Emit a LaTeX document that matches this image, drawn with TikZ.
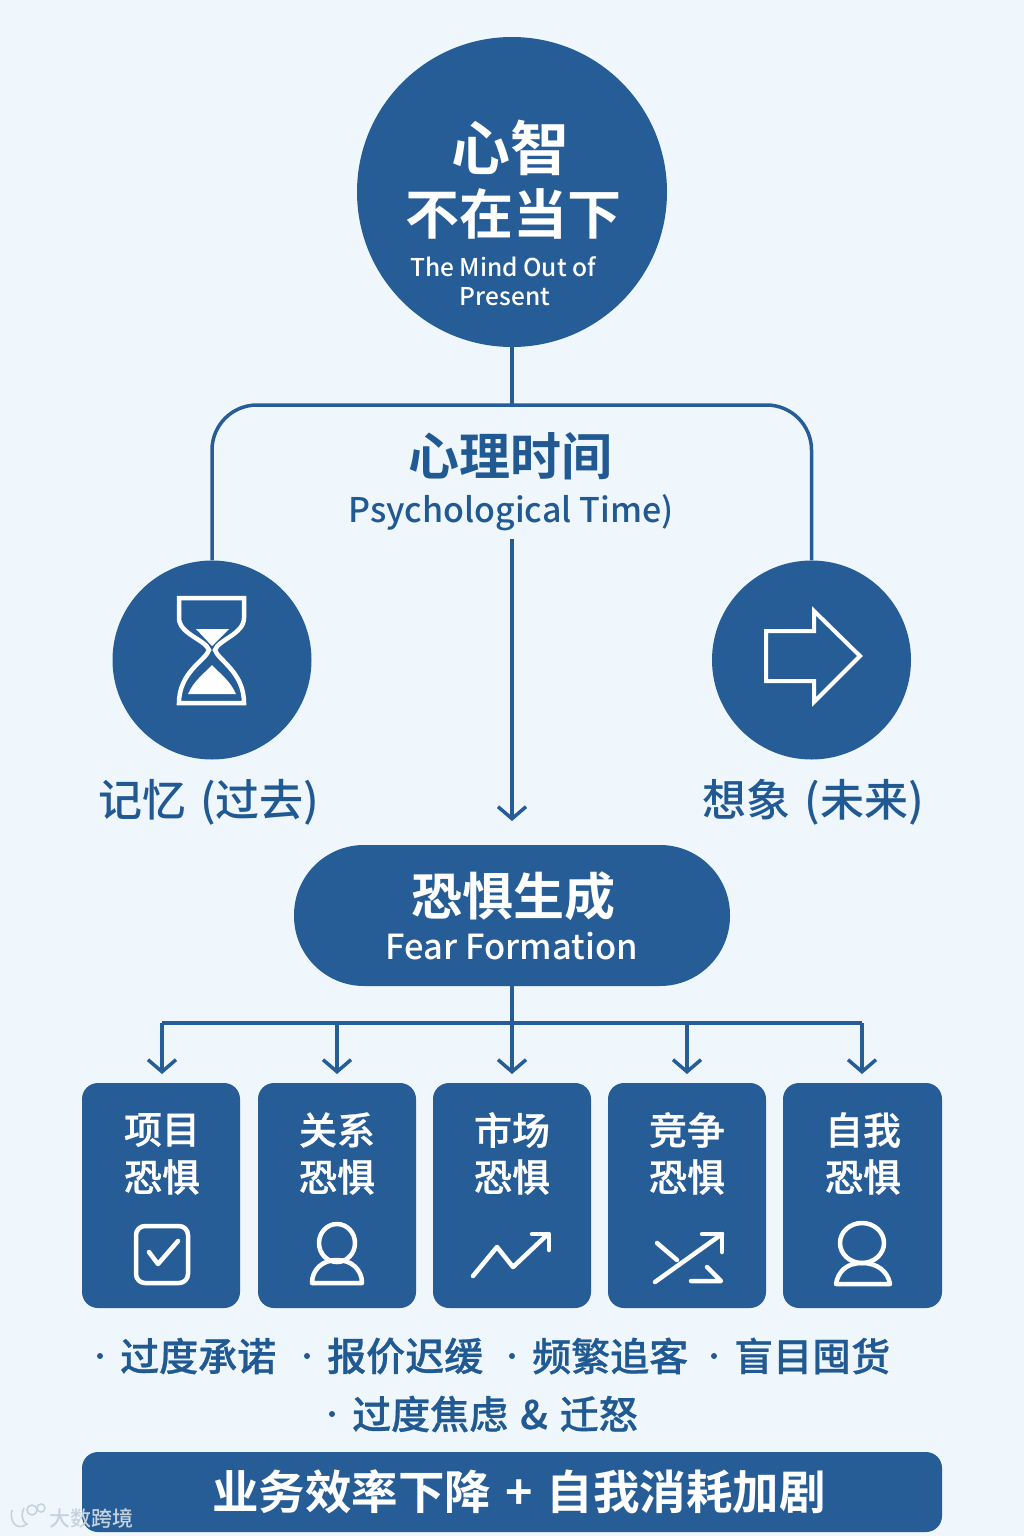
\documentclass[tikz,border=0pt]{standalone}
\usepackage{fontspec}
\setmainfont{Noto Sans CJK SC}[UprightFont={* Medium},BoldFont={* Bold}]
\newfontfamily\semifont{Noto Sans CJK SC}[UprightFont={* Medium},UprightFeatures={FakeBold=0.7}]
\usetikzlibrary{arrows.meta,shapes.geometric,calc}
\definecolor{bluefill}{HTML}{275D97}
\definecolor{bluetext}{HTML}{215A93}
\definecolor{pagebg}{HTML}{EFF7FD}
\definecolor{markgrey}{HTML}{C6D3DF}
\newcommand{\fs}[1]{\fontsize{#1}{#1}\selectfont}
\tikzset{
  x=1pt,y=-1pt,
  disc/.style={circle,fill=bluefill,draw=none,inner sep=0pt},
  pill/.style={rounded corners=70pt,fill=bluefill,draw=none},
  card/.style={rounded corners=16pt,fill=bluefill,draw=none},
  wtext/.style={text=white,inner sep=0pt,align=center},
  btext/.style={text=bluetext,inner sep=0pt,align=center},
  link/.style={draw=bluefill,line width=3.5pt},
  tip/.style={link,-{Straight Barb[length=12pt,width=28pt,line width=3.5pt]}},
  ico/.style={draw=white,line width=4.5pt,line join=round,line cap=round},
  bul/.style={btext,font=\fs{39}\semifont,anchor=west},
  markline/.style={draw=markgrey,line width=1.6pt},
}
\begin{document}
\begin{tikzpicture}
\useasboundingbox (0,0) rectangle (1024,1536);
\fill[pagebg] (0,0) rectangle (1024,1536);

% main shapes
\node[disc,minimum size=310pt] (mind) at (512,192) {};
\node[disc,minimum size=199pt] (past) at (212,660) {};
\node[disc,minimum size=199pt] (future) at (811.5,660) {};
\fill[pill] (294,845) rectangle (730,986);
\coordinate (pillN) at (512,845);
\coordinate (pillS) at (512,986);
\foreach \n/\a/\b in {c1/82/240,c2/258/416,c3/433/591,c4/608/766,c5/783/942}{
  \fill[card] (\a,1083) rectangle (\b,1308);
}
\fill[card] (82,1452) rectangle (942,1532);

% texts
\node[wtext,font=\fs{59}\bfseries] (t1) at (510,148) {心智};
\node[wtext,font=\fs{54}\bfseries] (t2) at (513.5,214) {不在当下};
\node[wtext,font=\fs{24.5}] (t3) at (503,267) {The Mind Out of};
\node[wtext,font=\fs{24.5}] (t4) at (505,297) {Present};
\node[btext,font=\fs{51}\bfseries] (ptime) at (510,456) {心理时间};
\node[btext,font=\fs{34}] (ptimeen) at (511,513) {Psychological Time)};
\node[btext,font=\fs{44}] (lpast) at (209,802) {记忆\hspace{14pt}(过去)};
\node[btext,font=\fs{44}] (lfut) at (813,802) {想象\hspace{14pt}(未来)};
\node[wtext,font=\fs{51}\bfseries] (fear) at (513,896) {恐惧生成};
\node[wtext,font=\fs{34.5}] (fearen) at (512,946) {Fear Formation};
\foreach \n/\x/\t in {a/162/项目,b/337/关系,c/512/市场,d/687/竞争,e/863/自我}{
  \node[wtext,font=\fs{38}\semifont] (card\n1) at (\x,1130) {\t};
  \node[wtext,font=\fs{38}\semifont] (card\n2) at (\x,1177) {恐惧};
}
\foreach \n/\x/\y/\t in {p/120/1356/过度承诺,q/327/1356/报价迟缓,r/532/1356/频繁追客,s/734/1356/盲目囤货,u/352/1414/过度焦虑\hspace{12pt}\&\hspace{12pt}迁怒}{
  \node[bul] (item\n) at (\x,\y) {\t};
  \fill[bluetext] ($(\x,\y)+(-20,0)$) circle (3pt);
}
\node[wtext,font=\fs{46.5}\bfseries] (bar) at (519,1492) {业务效率下降\hspace{14pt}+\hspace{14pt}自我消耗加剧};

% connectors
\coordinate (jn) at (512,405);
\draw[link] (mind.south) -- (jn);
\draw[link,rounded corners=45pt] (past.north) |- (jn) -| (future.north);
\draw[tip,shorten <=8pt,shorten >=24pt] (ptimeen.south -| pillN) -- (pillN);
\coordinate (bus) at (512,1023);
\draw[link] (pillS) -- (bus);
\foreach \x in {162,337,512,687,862}{
  \coordinate (drop\x) at (\x,1023);
  \coordinate (land\x) at (\x,1074);
  \draw[tip] (drop\x) -- (land\x);
}
\draw[link] (drop162) -- (drop862);

% hourglass
\draw[ico,line cap=butt,line join=miter]
  (179,598) -- (244,598) -- (244,618) .. controls (244,634) and (218,640) .. (215,650)
  .. controls (218,660) and (244,672) .. (244,703) -- (179,703)
  .. controls (179,672) and (206,660) .. (209,650) .. controls (206,640) and (179,634) .. (179,618) -- cycle;
\fill[white] (196,629) -- (229,629) -- (212,646) -- cycle;
\fill[white] (188,694) .. controls (194,680) and (206,672) .. (212,665) .. controls (218,672) and (230,680) .. (236,694) -- cycle;
% arrow icon
\draw[ico,line width=4pt,line cap=butt,line join=miter]
  (766,631) -- (814,631) -- (814,611) -- (860,656) -- (814,702) -- (814,681) -- (766,681) -- cycle;
% check icon
\draw[ico,rounded corners=9pt] (136,1226) rectangle (188,1283);
\draw[ico] (149,1252) -- (158,1264) -- (178,1241);
% person 1
\draw[ico] (337,1243) ellipse (18pt and 19pt);
\draw[ico] (312,1283) .. controls (312,1270) and (322,1260) .. (337,1260) .. controls (352,1260) and (362,1270) .. (362,1283) -- cycle;
% chart
\draw[ico] (473,1276) -- (497,1247) -- (513,1267) -- (548,1234);
\draw[ico] (532,1234) -- (549,1234) -- (549,1250);
% shuffle
\draw[ico] (655,1282) -- (722,1234);
\draw[ico] (702,1234) -- (722,1234) -- (722,1252);
\draw[ico] (657,1243) -- (677,1260);
\draw[ico] (707,1267) -- (721,1281) -- (691,1281);
% person 2
\draw[ico] (862,1243) ellipse (22pt and 20pt);
\draw[ico] (836,1284) .. controls (838,1272) and (846,1263) .. (862,1263) .. controls (878,1263) and (888,1272) .. (890,1284) -- cycle;

% watermark
\node[text=markgrey,inner sep=0pt,font=\fs{21}] (wm) at (91,1518) {大数跨境};
\draw[markline] (12,1510) .. controls (9,1520) and (16,1532) .. (27,1524) .. controls (20,1520) and (22,1512) .. (24,1508);
\draw[markline] (32,1510) circle (5pt);
\draw[markline] (41,1508) circle (4pt);
\end{tikzpicture}
\end{document}
